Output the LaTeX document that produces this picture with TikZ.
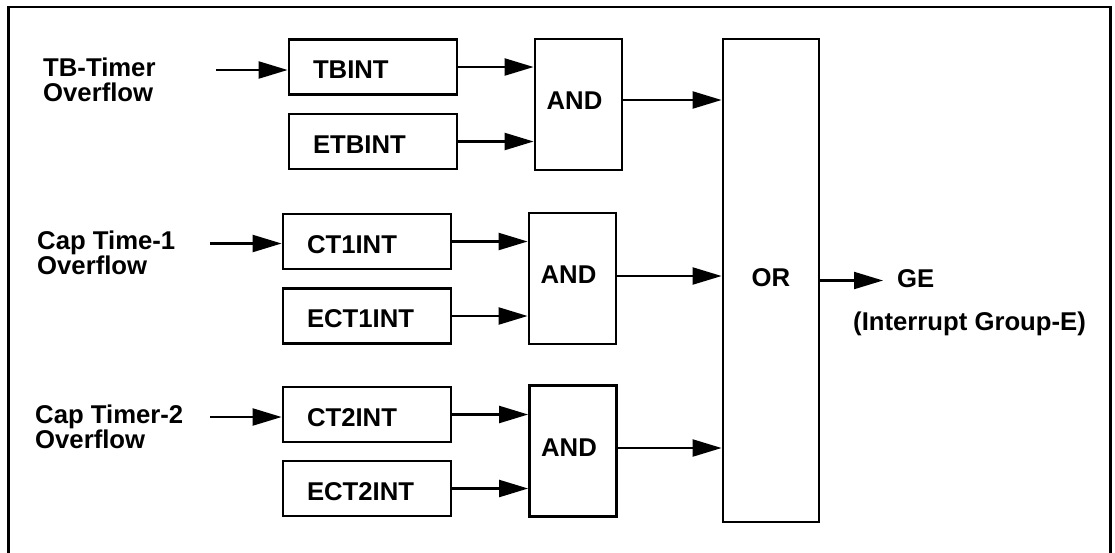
\documentclass[tikz,border=0pt]{standalone}
\usepackage{fontspec}
\setmainfont{Liberation Sans}
\usetikzlibrary{arrows.meta}
\begin{document}
\begin{tikzpicture}[x=1pt,y=-1pt,
  every node/.style={font=\fontsize{25.7}{25}\selectfont\bfseries},
  intbox/.style={draw, line width=2.8pt, inner xsep=24pt, inner ysep=0pt,
    minimum width=168pt, minimum height=55pt, text width=120pt, align=left,
    text height=23pt, text depth=0pt},
  gate/.style={draw, line width=2.8pt, inner sep=0pt,
    minimum width=87pt, minimum height=131pt, text height=18.4pt, text depth=8pt},
  orgate/.style={draw, line width=2.8pt, inner sep=0pt,
    minimum width=96pt, minimum height=483pt, text height=18.4pt, text depth=6pt},
  lbl/.style={align=left, inner sep=0pt},
  arr/.style={line width=2.2pt, -{Triangle[length=29pt,width=17pt]}}]
\useasboundingbox (0,0) rectangle (1115,552);
\clip (0,0) rectangle (1115,552);
% frame (bottom edge lies outside the picture)
\draw[line width=2.8pt] (8.5,600) -- (8.5,7) -- (1110.5,7) -- (1110.5,600);
% labels
\node[lbl, anchor=north west] (tblbl) at (43,58) {TB-Timer\\Overflow};
\node[lbl, anchor=north west] (c1lbl) at (37,231) {Cap Time-1\\Overflow};
\node[lbl, anchor=north west] (c2lbl) at (35,405) {Cap Timer-2\\Overflow};
% enable boxes
\node[intbox] (tbint) at (373,67) {TBINT};
\node[intbox] (etbint) at (373,141.5) {ETBINT};
\node[intbox] (ct1) at (367,241.5) {CT1INT};
\node[intbox] (ect1) at (367,316) {ECT1INT};
\node[intbox] (ct2) at (367,414.5) {CT2INT};
\node[intbox] (ect2) at (367,488.5) {ECT2INT};
% gates
\node[gate] (and1) at (578.5,104.5) {AND\hspace*{8pt}};
\node[gate] (and2) at (572.5,278.5) {AND\hspace*{8pt}};
\node[gate] (and3) at (573,451) {AND\hspace*{8pt}};
\node[orgate] (or) at (771,280.5) {OR};
% output labels
\node[anchor=base west, inner sep=0pt] (ge) at (897,287) {GE};
\node[anchor=base west, inner sep=0pt] (ige) at (853,330) {(Interrupt Group-E)};
% input arrows
\coordinate (tbin) at (216,70);
\coordinate (c1in) at (210,243.5);
\coordinate (c2in) at (210,417);
\draw[arr] (tbin) -- (tbin -| tbint.west);
\draw[arr] (c1in) -- (c1in -| ct1.west);
\draw[arr] (c2in) -- (c2in -| ct2.west);
% into AND gates
\draw[arr] (tbint.east) -- (tbint.east -| and1.west);
\draw[arr] (etbint.east) -- (etbint.east -| and1.west);
\draw[arr] (ct1.east) -- (ct1.east -| and2.west);
\draw[arr] (ect1.east) -- (ect1.east -| and2.west);
\draw[arr] (ct2.east) -- (ct2.east -| and3.west);
\draw[arr] (ect2.east) -- (ect2.east -| and3.west);
% AND to OR
\coordinate (a1o) at ([yshift=4.5pt]and1.east);
\coordinate (a2o) at ([yshift=2.5pt]and2.east);
\coordinate (a3o) at ([yshift=3pt]and3.east);
\draw[arr] (a1o) -- (a1o -| or.west);
\draw[arr] (a2o) -- (a2o -| or.west);
\draw[arr] (a3o) -- (a3o -| or.west);
% OR to GE
\coordinate (getip) at (883,280.5);
\draw[arr] (or.east) -- (getip);
\end{tikzpicture}
\end{document}
